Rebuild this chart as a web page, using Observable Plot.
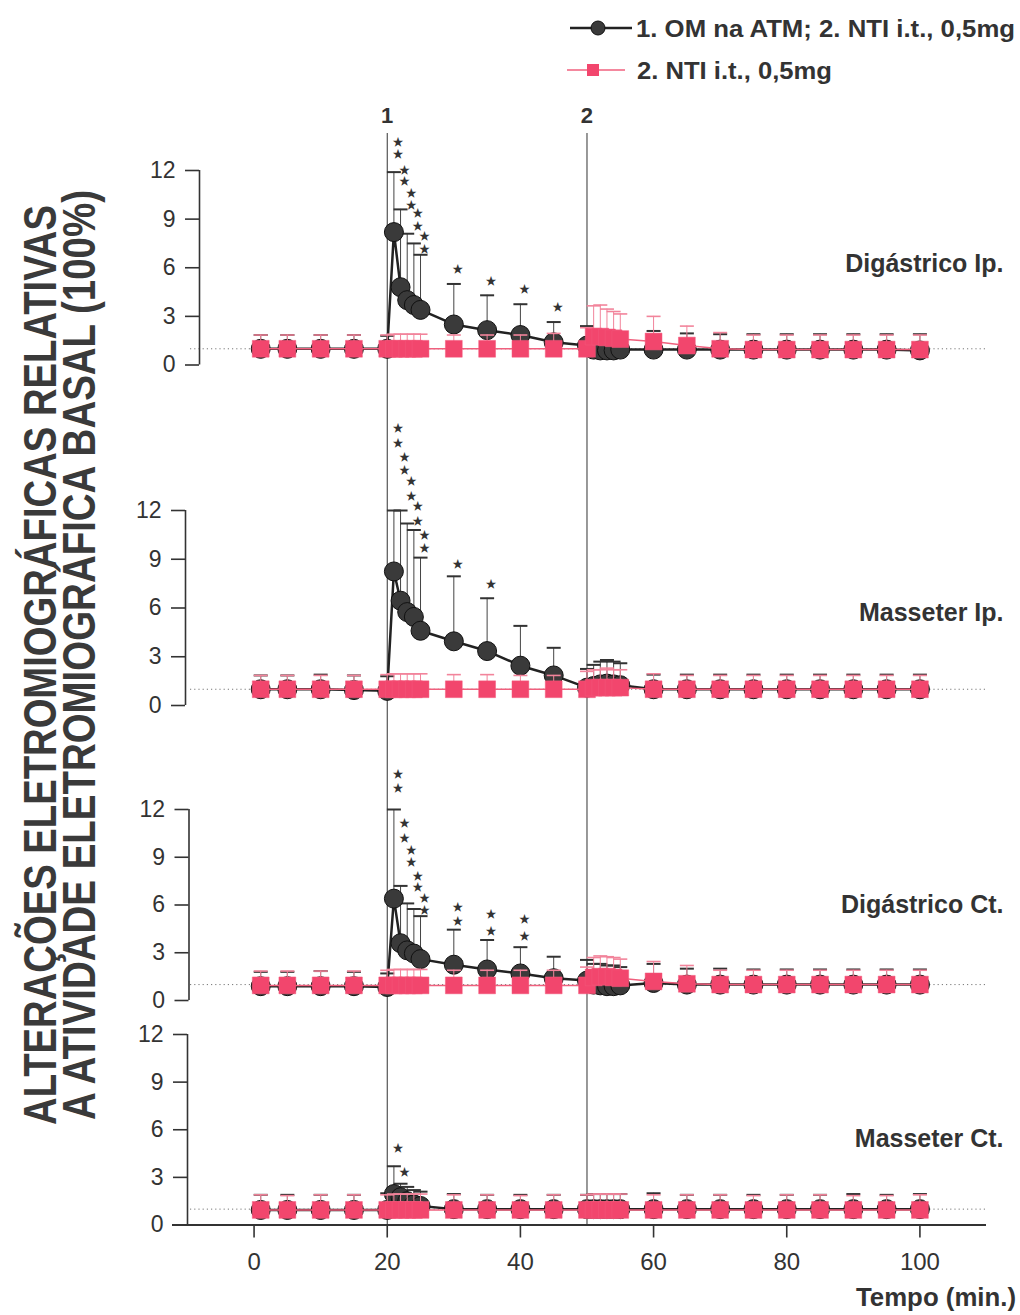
<!DOCTYPE html>
<html>
<head>
<meta charset="utf-8">
<script src="https://cdn.jsdelivr.net/npm/d3@7"></script>
<script src="https://cdn.jsdelivr.net/npm/@observablehq/plot@0.6"></script>
<style>
  body { margin: 0; background: #fff; }
  #root { position: relative; width: 1020px; height: 1315px; overflow: hidden; background: #fff;
          font-family: "Liberation Sans", Arial, Helvetica, sans-serif; color: #333; }
  .panel { position: absolute; left: 0; }
  #overlay { position: absolute; left: 0; top: 0; }
</style>
</head>
<body>
<div id="root"></div>
<script>
// ---------------- DATA ----------------
const times = [1,5,10,15,20,21,22,23,24,25,30,35,40,45,50,51,52,53,54,55,60,65,70,75,80,85,90,95,100];
const xTicks = [0,20,40,60,80,100];
const yTicks = [0,3,6,9,12];
const panelNames = ["Digástrico Ip.", "Masseter Ip.", "Digástrico Ct.", "Masseter Ct."];
const seriesNames = ["1. OM na ATM; 2. NTI i.t., 0,5mg", "2. NTI i.t., 0,5mg"];
const injections = [{t: 20, label: "1"}, {t: 50, label: "2"}];

// Digástrico Ip.
const omMeanDigIp  = [1.0,1.0,1.0,1.0,1.0, 8.2,4.8,4.0,3.7,3.4, 2.5,2.15,1.85,1.4,1.2, 0.95,0.9,0.9,0.9,0.95, 0.95,0.95,0.95,0.95,0.95,0.95,0.95,0.95,0.9];
const omTopDigIp   = [1.85,1.85,1.85,1.85,1.8, 11.9,9.6,8.1,7.5,6.8, 5.0,4.3,3.75,2.65,2.4, 2.0,2.0,2.0,2.0,2.0, 2.1,1.95,1.9,1.9,1.9,1.9,1.9,1.9,1.9];
const ntiMeanDigIp = [1.0,1.0,1.0,1.0,1.0, 1.0,1.0,1.0,1.0,1.0, 1.0,1.0,1.0,1.0,1.0, 1.75,1.75,1.7,1.65,1.6, 1.45,1.2,1.0,0.95,0.95,0.95,0.95,0.95,0.95];
const ntiTopDigIp  = [1.85,1.85,1.85,1.85,1.85, 1.9,1.9,1.9,1.9,1.9, 1.85,1.85,1.85,1.95,2.3, 3.65,3.7,3.45,3.3,3.15, 3.0,2.4,2.0,1.85,1.85,1.85,1.85,1.85,1.85];
const sigTimeDigIp  = [21,21,22,22,23,23,24,24,25,25,30,35,40,45];
const sigLevelDigIp = [13.75,13.0,12.0,11.3,10.6,9.85,9.35,8.57,7.93,7.1,5.9,5.15,4.64,3.53];

// Masseter Ip.
const omMeanMasIp  = [1.0,1.0,1.0,0.95,0.9, 8.25,6.45,5.75,5.45,4.6, 3.95,3.35,2.45,1.85,1.1, 1.2,1.3,1.35,1.3,1.25, 1.0,1.0,1.0,1.0,1.0,1.0,1.0,1.0,1.0];
const omTopMasIp   = [1.85,1.85,1.9,1.85,1.8, 12,12,11.2,10.8,9.1, 7.95,6.6,4.9,3.55,2.25, 2.5,2.7,2.8,2.7,2.6, 1.9,1.9,1.9,1.9,1.9,1.9,1.9,1.9,1.9];
const ntiMeanMasIp = [1.0,1.0,1.0,1.0,1.0, 1.0,1.0,1.0,1.0,1.0, 1.0,1.0,1.0,1.0,1.0, 1.1,1.1,1.1,1.1,1.1, 1.0,1.0,1.0,1.0,1.0,1.0,1.0,1.0,1.0];
const ntiTopMasIp  = [1.85,1.85,1.85,1.85,1.9, 1.95,1.95,1.95,1.95,1.95, 1.9,1.9,1.85,1.85,2.1, 2.2,2.2,2.3,2.2,2.2, 1.95,1.85,1.85,1.85,1.85,1.85,1.85,1.85,1.85];
const sigTimeMasIp  = [21,21,22,22,23,23,24,24,25,25,30,35];
const sigLevelMasIp = [17.05,16.1,15.25,14.45,13.8,12.85,12.25,11.3,10.45,9.65,8.7,7.45];

// Digástrico Ct.
const omMeanDigCt  = [0.9,0.9,0.9,0.9,0.85, 6.4,3.6,3.15,2.95,2.6, 2.25,1.95,1.7,1.4,1.25, 1.0,0.95,0.9,0.9,0.95, 1.1,1.0,1.0,1.0,1.0,1.0,1.0,1.0,1.0];
const omTopDigCt   = [1.8,1.8,1.85,1.8,1.7, 12,7.2,6.1,5.75,5.3, 4.45,3.8,3.35,2.75,2.55, 2.3,2.3,2.2,2.2,2.1, 2.3,2.0,2.0,1.95,1.95,1.95,1.95,1.95,1.95];
const ntiMeanDigCt = [0.95,0.95,0.95,0.95,0.95, 0.95,0.95,0.95,0.95,0.95, 0.95,0.95,0.95,0.95,0.95, 1.45,1.5,1.5,1.45,1.4, 1.2,1.05,1.0,1.0,1.0,1.0,1.0,1.0,1.0];
const ntiTopDigCt  = [1.85,1.85,1.85,1.85,1.9, 1.95,1.95,1.95,1.95,1.95, 1.9,1.9,1.9,1.9,2.1, 2.7,2.8,2.75,2.7,2.6, 2.45,2.2,1.9,1.9,1.9,1.9,1.9,1.9,1.9];
const sigTimeDigCt  = [21,21,22,22,23,23,24,24,25,25,30,30,35,35,40,40];
const sigLevelDigCt = [14.2,13.3,11.1,10.2,9.43,8.66,7.8,7.13,6.43,5.66,5.87,4.97,5.39,4.36,5.07,4.04];

// Masseter Ct.
const omMeanMasCt  = [0.95,0.95,0.95,0.95,0.95, 1.95,1.75,1.5,1.3,1.2, 1.0,1.0,1.0,1.0,1.0, 1.0,1.0,1.0,1.0,1.0, 1.0,1.0,1.0,1.0,1.0,1.0,1.0,1.0,1.0];
const omTopMasCt   = [1.9,1.9,1.9,1.9,2.0, 3.7,2.6,2.4,2.2,2.1, 1.95,1.9,1.9,1.9,1.9, 1.95,1.95,1.95,1.95,1.95, 2.0,1.9,1.9,1.9,1.9,1.9,1.95,1.9,1.95];
const ntiMeanMasCt = [0.95,0.95,0.95,0.95,0.95, 0.95,0.95,0.95,0.95,0.95, 0.95,0.95,0.95,0.95,0.95, 0.95,0.95,0.95,0.95,0.95, 0.95,0.95,0.95,0.95,0.95,0.95,0.95,0.95,0.95];
const ntiTopMasCt  = [1.9,1.85,1.9,1.9,1.9, 1.95,1.95,1.95,1.95,1.95, 1.9,1.9,1.85,1.9,1.9, 1.95,1.95,1.95,1.95,1.95, 1.9,1.9,1.9,1.85,1.9,1.9,1.85,1.85,1.9];
const sigTimeMasCt  = [21,22];
const sigLevelMasCt = [4.83,3.28];

// ---------------- BUILD ----------------
const panels = [
  {name: panelNames[0], om: omMeanDigIp, omTop: omTopDigIp, nti: ntiMeanDigIp, ntiTop: ntiTopDigIp, sigT: sigTimeDigIp, sigY: sigLevelDigIp},
  {name: panelNames[1], om: omMeanMasIp, omTop: omTopMasIp, nti: ntiMeanMasIp, ntiTop: ntiTopMasIp, sigT: sigTimeMasIp, sigY: sigLevelMasIp},
  {name: panelNames[2], om: omMeanDigCt, omTop: omTopDigCt, nti: ntiMeanDigCt, ntiTop: ntiTopDigCt, sigT: sigTimeDigCt, sigY: sigLevelDigCt},
  {name: panelNames[3], om: omMeanMasCt, omTop: omTopMasCt, nti: ntiMeanMasCt, ntiTop: ntiTopMasCt, sigT: sigTimeMasCt, sigY: sigLevelMasCt}
];

// layout (pixels)
const layout = [
  {top: 95,   height: 325, mt: 75, mb: 55.5, axisDx: 27,   lineInsetTop: -37, labelDy: -4},
  {top: 420,  height: 315, mt: 90, mb: 30,   axisDx: 13,   lineInsetTop: null, labelDy: 5},
  {top: 735,  height: 277, mt: 74, mb: 12,   axisDx: 16.5, lineInsetTop: null, labelDy: 0},
  {top: 1012, height: 303, mt: 22, mb: 90.5, axisDx: 15,   lineInsetTop: null, labelDy: 9}
];

const xDomain = [-12.25, 110];
const PINK = "#f2466d";
const PINK_LINE = "#f0607e";
const PINK_ERR = "#f2849b";
const FONT = "'Liberation Sans', Arial, Helvetica, sans-serif";

const capSymbol = {
  draw(ctx, size) {
    const w = Math.sqrt(size / Math.PI);
    ctx.moveTo(-w, 0);
    ctx.lineTo(w, 0);
  }
};

const root = document.getElementById("root");
const yMid = d3.mean(yTicks);

panels.forEach((p, i) => {
  const L = layout[i];
  const last = i === panels.length - 1;
  const om = times.map((t, j) => ({t, mean: p.om[j], top: p.omTop[j]}));
  const nti = times.map((t, j) => ({t, mean: p.nti[j], top: p.ntiTop[j]}));
  const sig = p.sigT.map((t, j) => ({t, level: p.sigY[j]}));

  const marks = [
    // dotted baseline at 100%
    Plot.ruleY([1], {stroke: "#777", strokeWidth: 1, strokeDasharray: "1.2,3", insetLeft: 18}),
    // injection lines
    Plot.ruleX(injections, {x: "t", stroke: "#333", strokeWidth: 1,
      insetTop: L.lineInsetTop != null ? L.lineInsetTop : -L.mt,
      insetBottom: last ? 0 : -L.mb}),
    // y axis
    Plot.ruleX([xDomain[0]], {y1: yTicks[0], y2: yTicks[yTicks.length - 1], dx: L.axisDx, stroke: "#333", strokeWidth: 1.6}),
    Plot.axisY(yTicks, {anchor: "left", label: null, tickSize: 14, tickPadding: 10, dx: L.axisDx, fontSize: 23, strokeWidth: 1.6}),
    // OM series
    Plot.ruleX(om, {x: "t", y1: "mean", y2: "top", stroke: "#444", strokeWidth: 1}),
    Plot.dot(om, {x: "t", y: "top", symbol: capSymbol, r: 7, stroke: "#333", strokeWidth: 2, fill: "none"}),
    Plot.line(om, {x: "t", y: "mean", stroke: "#222", strokeWidth: 2.5}),
    Plot.dot(om, {x: "t", y: "mean", r: 9.5, fill: "#3a3a3a", stroke: "#111", strokeWidth: 1}),
    // NTI series
    Plot.ruleX(nti, {x: "t", y1: "mean", y2: "top", stroke: PINK_ERR, strokeWidth: 1}),
    Plot.dot(nti, {x: "t", y: "top", symbol: capSymbol, r: 7, stroke: PINK_ERR, strokeWidth: 1.6, fill: "none"}),
    Plot.line(nti, {x: "t", y: "mean", stroke: PINK_LINE, strokeWidth: 1.5}),
    Plot.dot(nti, {x: "t", y: "mean", symbol: "square", r: 9.5, fill: PINK, stroke: "#f35a7c", strokeWidth: 0.5}),
    // significance stars
    Plot.text(sig, {x: "t", y: "level", text: () => "★", fontSize: 11, fill: "#333", dx: 4,
      fontFamily: "'Noto Sans CJK SC', 'DejaVu Sans', sans-serif"}),
    // panel label
    Plot.text([p.name], {text: d => d, y: () => yMid, frameAnchor: "right", textAnchor: "end", dx: 17, dy: L.labelDy,
      fontSize: 25, fontWeight: "bold", fill: "#333"})
  ];
  if (i === 0) {
    marks.push(Plot.text(injections, {x: "t", text: "label", frameAnchor: "top", dy: -63, fontSize: 22, fontWeight: "bold", fill: "#333"}));
  }
  if (last) {
    marks.push(Plot.ruleY([0], {stroke: "#333", strokeWidth: 2}));
    marks.push(Plot.axisX(xTicks, {anchor: "bottom", label: null, tickSize: 13, tickPadding: 15, fontSize: 24, strokeWidth: 1.6}));
  }

  const chart = Plot.plot({
    width: 1020,
    height: L.height,
    marginLeft: 172,
    marginRight: 34,
    marginTop: L.mt,
    marginBottom: L.mb,
    x: {domain: xDomain, axis: null, label: null},
    y: {domain: [yTicks[0], yTicks[yTicks.length - 1]], axis: null, label: null},
    style: {overflow: "visible", background: "transparent", color: "#333", fontFamily: FONT, fontSize: "21px"},
    marks
  });
  const wrap = document.createElement("div");
  wrap.className = "panel";
  wrap.style.top = L.top + "px";
  wrap.appendChild(chart);
  root.appendChild(wrap);
});

// ---------------- OVERLAY: titles & legend ----------------
const NS = "http://www.w3.org/2000/svg";
const ov = document.createElementNS(NS, "svg");
ov.setAttribute("id", "overlay");
ov.setAttribute("width", 1020);
ov.setAttribute("height", 1315);
ov.style.fontFamily = FONT;
function el(tag, attrs, text) {
  const e = document.createElementNS(NS, tag);
  for (const k in attrs) e.setAttribute(k, attrs[k]);
  if (text != null) e.textContent = text;
  ov.appendChild(e);
  return e;
}
// y title (condensed bold look: smaller font stretched perpendicular to the baseline)
el("text", {transform: "translate(56,665) rotate(-90) scale(1,1.25)", "text-anchor": "middle", "font-size": 37.5, "font-weight": "bold",
  fill: "#3a3a3a", textLength: 920, lengthAdjust: "spacingAndGlyphs"}, "ALTERAÇÕES ELETROMIOGRÁFICAS RELATIVAS");
el("text", {transform: "translate(95,655) rotate(-90) scale(1,1.25)", "text-anchor": "middle", "font-size": 37.5, "font-weight": "bold",
  fill: "#3a3a3a", textLength: 930, lengthAdjust: "spacingAndGlyphs"}, "A ATIVIDADE ELETROMIOGRÁFICA BASAL (100%)");
// x title
el("text", {x: 1016, y: 1306, "text-anchor": "end", "font-size": 25, "font-weight": "bold", fill: "#333",
  textLength: 160, lengthAdjust: "spacingAndGlyphs"}, "Tempo (min.)");
// legend
el("line", {x1: 570, y1: 28, x2: 632, y2: 28, stroke: "#222", "stroke-width": 2.5});
el("circle", {cx: 598, cy: 28, r: 7, fill: "#3a3a3a", stroke: "#111"});
el("text", {x: 636, y: 36.5, "font-size": 24, "font-weight": "bold", fill: "#333", textLength: 379, lengthAdjust: "spacingAndGlyphs"}, seriesNames[0]);
el("line", {x1: 567, y1: 70, x2: 625, y2: 70, stroke: PINK_LINE, "stroke-width": 1.5});
el("rect", {x: 587, y: 64, width: 12, height: 12, fill: PINK});
el("text", {x: 637, y: 78.5, "font-size": 24, "font-weight": "bold", fill: "#333", textLength: 195, lengthAdjust: "spacingAndGlyphs"}, seriesNames[1]);
root.appendChild(ov);
</script>
</body>
</html>
